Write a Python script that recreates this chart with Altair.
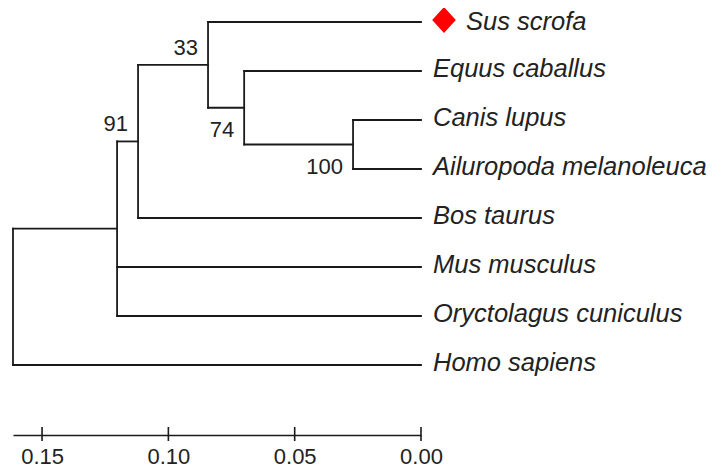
import altair as alt
import pandas as pd

# ---- data ----
leaf_names = ["Sus scrofa", "Equus caballus", "Canis lupus", "Ailuropoda melanoleuca",
              "Bos taurus", "Mus musculus", "Oryctolagus cuniculus", "Homo sapiens"]
leaf_parent = ["n33", "n74", "n100", "n100", "n91", "nA", "nA", "root"]
node_ids = ["root", "nA", "n91", "n33", "n74", "n100"]
node_parent = ["", "root", "nA", "n91", "n33", "n74"]
node_depth = [0.1615, 0.1203, 0.1120, 0.0843, 0.0700, 0.0269]
boot_nodes = ["n91", "n33", "n74", "n100"]
boot_values = [91, 33, 74, 100]
highlight = ["Sus scrofa"]
tick_values = [0.15, 0.10, 0.05, 0.00]

# ---- build tree geometry ----
ypos, xpos, parent = {}, {}, {}
for i, n in enumerate(leaf_names):
    ypos[n] = float(i)
    xpos[n] = 0.0
    parent[n] = leaf_parent[i]
for n, p, d in zip(node_ids, node_parent, node_depth):
    xpos[n] = d
    parent[n] = p
children = {n: [] for n in node_ids}
for n, p in parent.items():
    if p:
        children[p].append(n)
for n in reversed(node_ids):
    cy = [ypos[c] for c in children[n]]
    ypos[n] = (min(cy) + max(cy)) / 2

segs = []
for n, p in parent.items():
    if p:
        segs.append({"x": xpos[p], "x2": xpos[n], "y": ypos[n], "y2": ypos[n]})
for n in node_ids:
    cy = [ypos[c] for c in children[n]]
    segs.append({"x": xpos[n], "x2": xpos[n], "y": min(cy), "y2": max(cy)})
seg_df = pd.DataFrame(segs)

leaf_df = pd.DataFrame({"x": [0.0] * len(leaf_names), "y": [ypos[n] for n in leaf_names],
                        "label": leaf_names,
                        "hl": [n in highlight for n in leaf_names]})

boot_rows = []
for n, v in zip(boot_nodes, boot_values):
    sib = [ypos[c] for c in children[parent[n]]]
    boot_rows.append({"x": xpos[n], "y": ypos[n], "label": str(v),
                      "pos": "above" if ypos[n] == min(sib) else "below"})
boot_df = pd.DataFrame(boot_rows)
tick_df = pd.DataFrame({"x": tick_values})

# ---- scales / encodings ----
W, H = 408, 422
xs = alt.Scale(domain=[0, 0.1615], reverse=True, nice=False, zero=False)
ys = alt.Scale(domain=[-0.1837, 8.4286], reverse=True, nice=False, zero=False)
LINE = "#1a1a1a"
xaxis = alt.Axis(values=tick_values, format=".2f", title=None, grid=False,
                 ticks=False, tickSize=0, domainColor=LINE, domainWidth=1.6,
                 labelFont="Liberation Sans", labelFontSize=22, labelColor="#222",
                 labelPadding=11, labelFlush=False, labelOverlap=False)
X = alt.X("x:Q", scale=xs, axis=xaxis)
Y = alt.Y("y:Q", scale=ys, axis=None)

branches = alt.Chart(seg_df).mark_rule(color=LINE, strokeWidth=1.8, strokeCap="square").encode(
    x=X, x2="x2:Q", y=Y, y2="y2:Q")

ticks = alt.Chart(tick_df).mark_rule(color=LINE, strokeWidth=1.6).encode(
    x=X, y=alt.value(H - 8), y2=alt.value(H + 6))

leaf_font = dict(font="Liberation Sans", fontStyle="italic", fontSize=25.5, color="#222",
                 align="left", baseline="middle")
leaves = alt.Chart(leaf_df).transform_filter("!datum.hl").mark_text(
    dx=12, dy=-2, **leaf_font).encode(x=X, y=Y, text="label:N")
leaves_hl = alt.Chart(leaf_df).transform_filter("datum.hl").mark_text(
    dx=45, dy=0, **leaf_font).encode(x=X, y=Y, text="label:N")
diamond = alt.Chart(leaf_df).transform_filter("datum.hl").mark_point(
    shape="M0,-1.1L1,0L0,1.1L-1,0Z", size=560, filled=True, color="#ff0000",
    opacity=1, xOffset=23, yOffset=-2).encode(x=X, y=Y)

boot_font = dict(font="Liberation Sans", fontSize=22, color="#222", align="right",
                 baseline="middle")
boot_above = alt.Chart(boot_df).transform_filter("datum.pos == 'above'").mark_text(
    dx=-10, dy=-17, **boot_font).encode(x=X, y=Y, text="label:N")
boot_below = alt.Chart(boot_df).transform_filter("datum.pos == 'below'").mark_text(
    dx=-10, dy=22, **boot_font).encode(x=X, y=Y, text="label:N")

chart = alt.layer(branches, ticks, leaves, leaves_hl, diamond, boot_above, boot_below).properties(
    width=W, height=H,
    autosize=alt.AutoSizeParams(type="none"),
    padding={"left": 5, "top": 5, "right": 290, "bottom": 32},
    background="white",
).configure_view(stroke=None)

chart.save("out.html", embed_options={"renderer": "svg", "actions": False})
